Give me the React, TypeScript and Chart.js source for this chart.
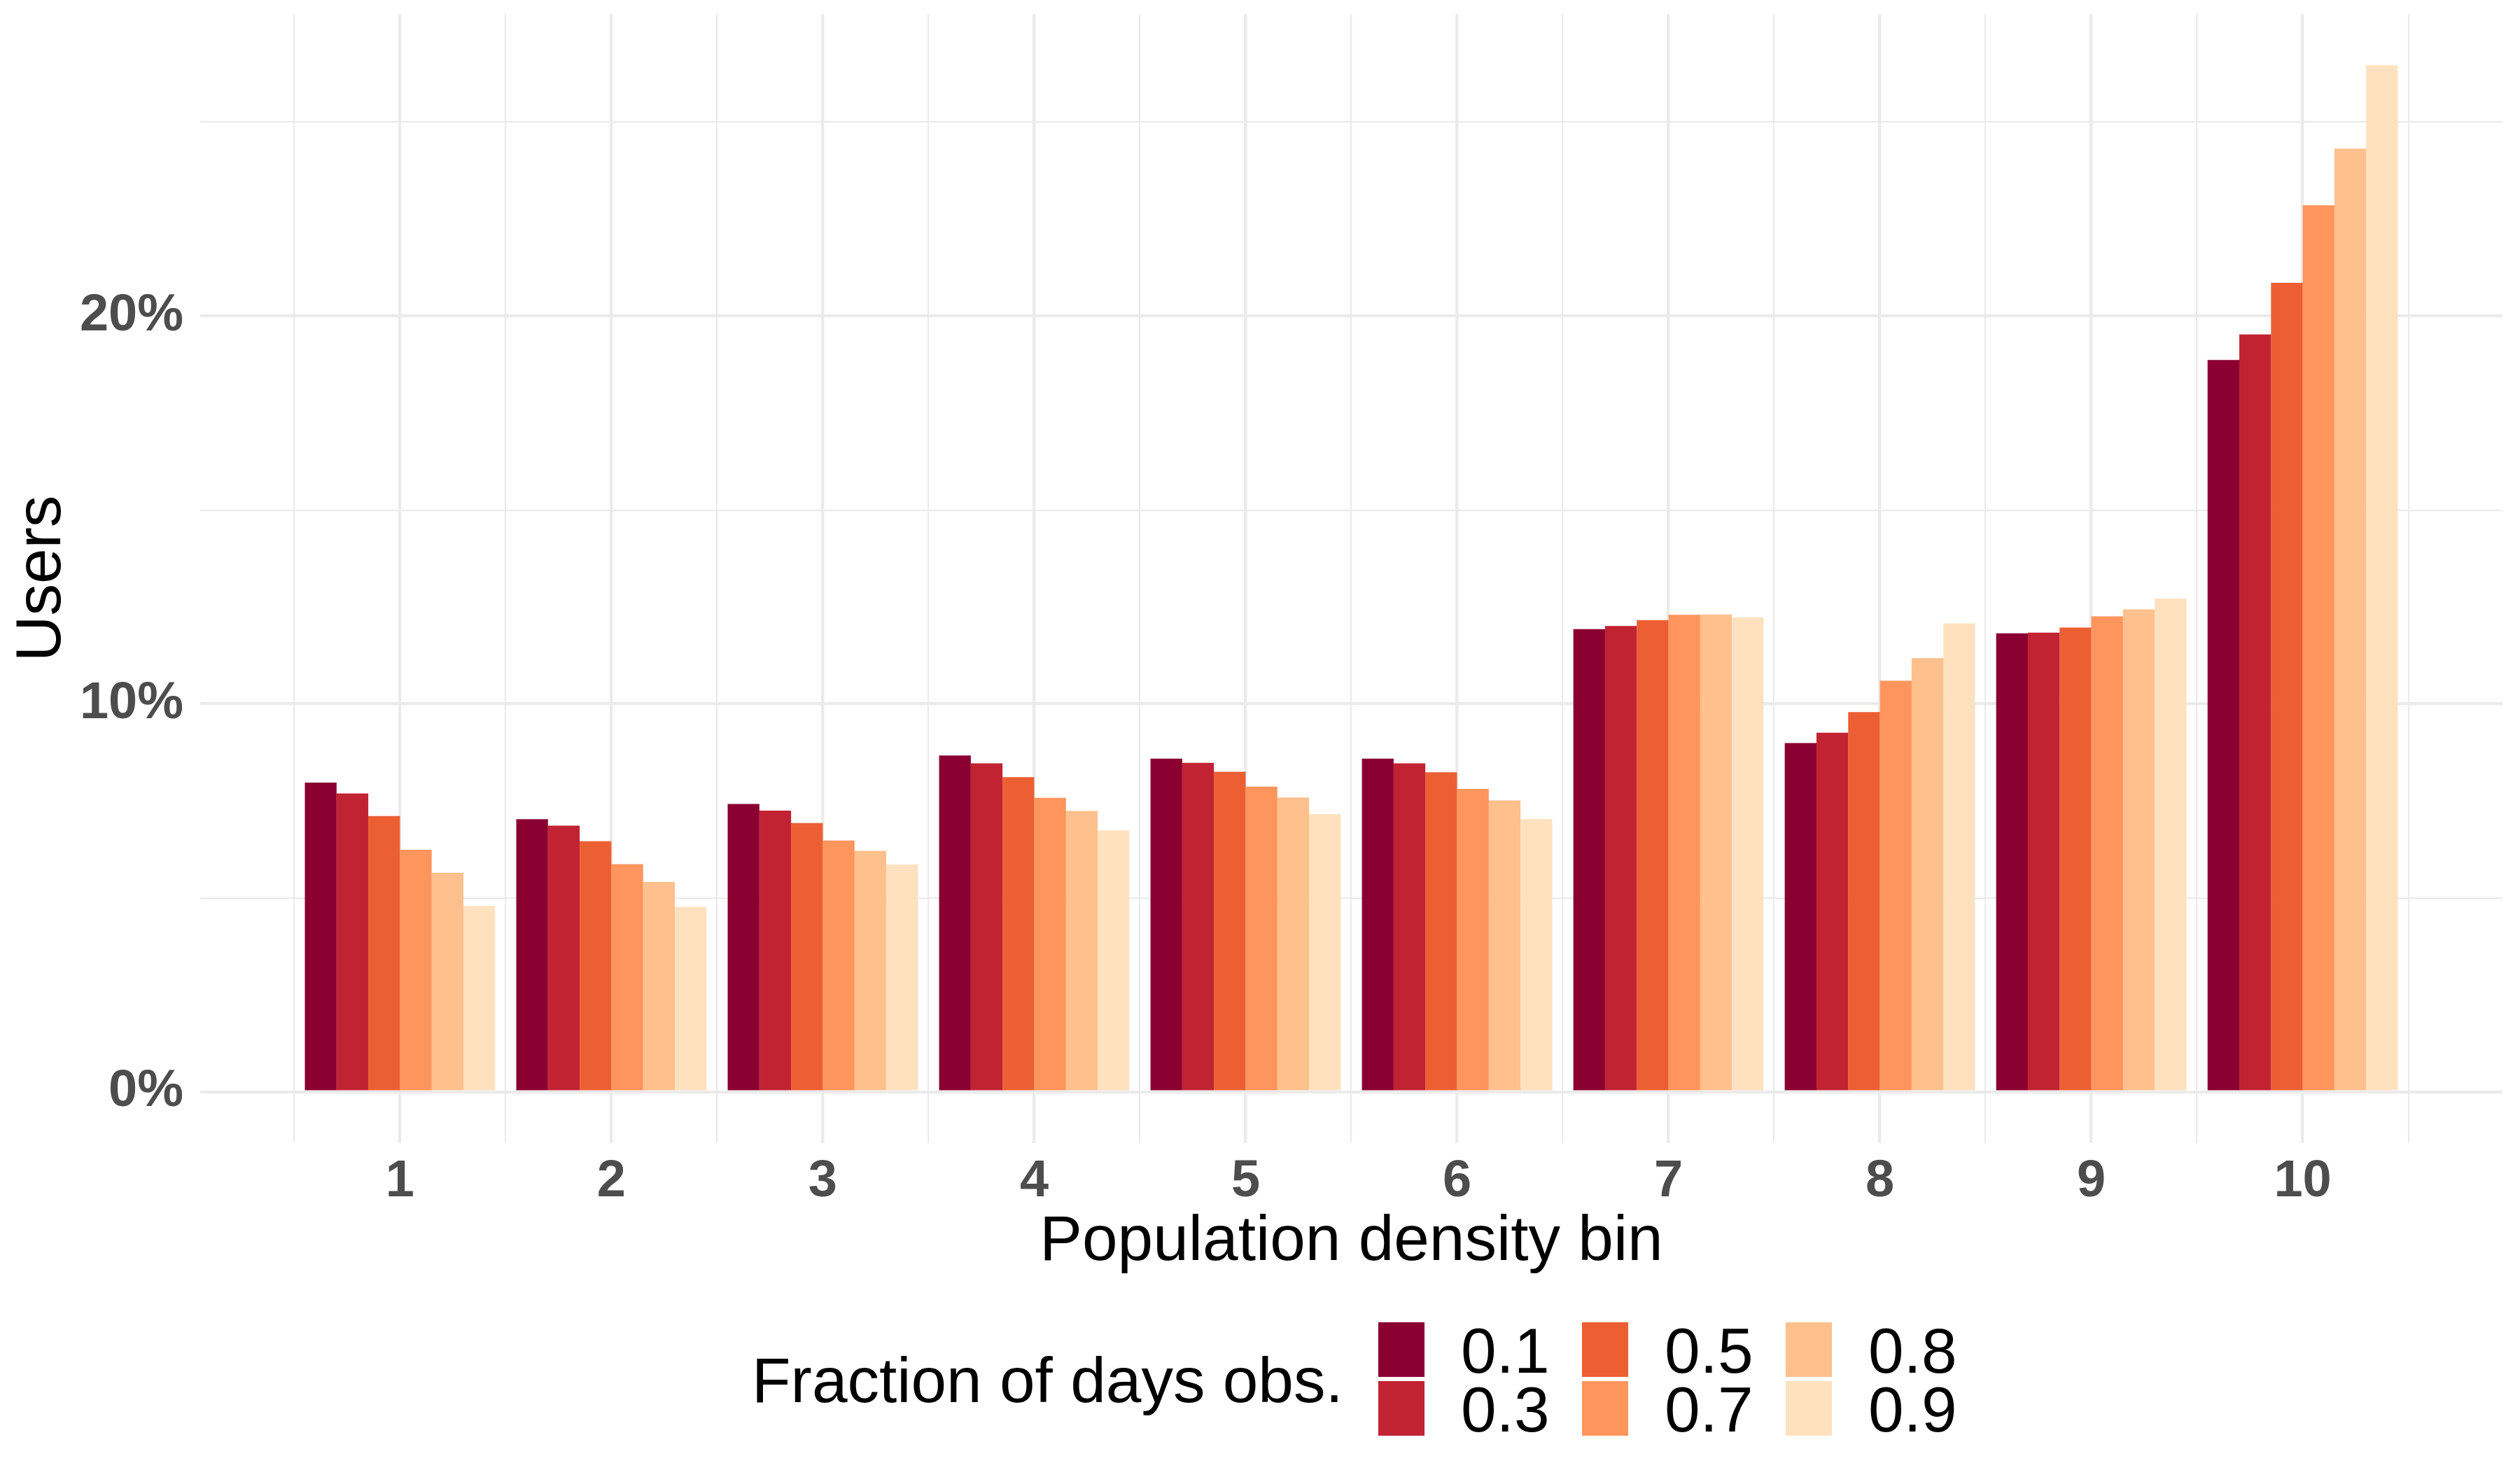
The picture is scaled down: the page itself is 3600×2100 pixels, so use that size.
import React, { useEffect, useRef } from 'react';
import { Chart, registerables } from 'chart.js';

Chart.register(...registerables);

// ---- data ----
const bins = [1, 2, 3, 4, 5, 6, 7, 8, 9, 10];
const fractions = ['0.1', '0.3', '0.5', '0.7', '0.8', '0.9'];
const fractionColors = ['#8A0030', '#C22333', '#EC5F33', '#FE955C', '#FEC08D', '#FFE1BF'];
const users01 = [7.97, 7.03, 7.42, 8.67, 8.59, 8.59, 11.93, 8.99, 11.82, 18.87];
const users03 = [7.69, 6.86, 7.25, 8.47, 8.48, 8.47, 12.01, 9.26, 11.84, 19.53];
const users05 = [7.11, 6.46, 6.93, 8.11, 8.25, 8.24, 12.16, 9.79, 11.97, 20.86];
const users07 = [6.24, 5.87, 6.48, 7.58, 7.87, 7.81, 12.30, 10.60, 12.26, 22.86];
const users08 = [5.65, 5.41, 6.21, 7.24, 7.59, 7.51, 12.31, 11.18, 12.44, 24.32];
const users09 = [4.79, 4.77, 5.86, 6.74, 7.16, 7.03, 12.23, 12.08, 12.72, 26.47];
const seriesValues = [users01, users03, users05, users07, users08, users09];
const yTickValues = [0, 5, 10, 15, 20, 25];
const yTickLabels = ['0%', '', '10%', '', '20%', ''];
const xMinorTicks = [0.5, 1.5, 2.5, 3.5, 4.5, 5.5, 6.5, 7.5, 8.5, 9.5, 10.5];

const FONT = '"Liberation Sans", Arial, Helvetica, sans-serif';
const GRID = '#EBEBEB';
const TICK = '#4D4D4D';

const legendPlugin = {
  id: 'customLegend',
  afterDraw(chart: any) {
    const ctx = chart.ctx;
    ctx.save();
    ctx.fillStyle = '#000000';
    ctx.font = `91px ${FONT}`;
    ctx.textBaseline = 'alphabetic';
    ctx.textAlign = 'left';
    ctx.fillText('Fraction of days obs.', 1074, 2003);
    chart.data.datasets.forEach((ds: any, i: number) => {
      const col = Math.floor(i / 2);
      const row = i % 2;
      const kx = 1969 + col * 291;
      const ky = 1889 + row * 84;
      ctx.fillStyle = ds.backgroundColor;
      ctx.fillRect(kx, ky, 66, 78);
      ctx.fillStyle = '#000000';
      ctx.fillText(ds.label, kx + 118, ky + 39 + 33);
    });
    ctx.restore();
  },
};

export default function App() {
  const ref = useRef<HTMLCanvasElement | null>(null);
  useEffect(() => {
    document.body.style.margin = '0';
    const canvas = ref.current!;
    const chart = new Chart(canvas, {
      type: 'bar',
      data: {
        datasets: seriesValues.map((vals, i) => ({
          label: fractions[i],
          data: bins.map((b, j) => ({ x: b, y: vals[j] })),
          backgroundColor: fractionColors[i],
          borderWidth: 0,
          categoryPercentage: 0.9,
          barPercentage: 1.0,
          xAxisID: 'x',
          yAxisID: 'y',
        })),
      },
      options: {
        responsive: false,
        animation: false,
        devicePixelRatio: 1,
        layout: { padding: { left: 6, top: 20, right: 25, bottom: 270 } },
        plugins: { legend: { display: false }, tooltip: { enabled: false } },
        scales: {
          x: {
            type: 'linear',
            position: 'bottom',
            offset: false,
            min: 0.055,
            max: 10.945,
            afterBuildTicks: (s: any) => {
              s.ticks = bins.map((v) => ({ value: v }));
            },
            afterFit: (s: any) => {
              s.height = 197;
              s.paddingLeft = 0;
              s.paddingRight = 0;
            },
            grid: { color: GRID, lineWidth: 4.3, drawTicks: false, offset: false },
            border: { display: false },
            ticks: {
              autoSkip: false,
              maxRotation: 0,
              minRotation: 0,
              padding: 11,
              color: TICK,
              font: { family: FONT, size: 74, weight: 'bold' },
              callback: (v: any) => String(v),
            },
            title: {
              display: true,
              text: 'Population density bin',
              color: '#000000',
              font: { family: FONT, size: 91 },
              padding: 0,
            },
          },
          xMinor: {
            type: 'linear',
            position: 'top',
            offset: false,
            min: 0.055,
            max: 10.945,
            afterBuildTicks: (s: any) => {
              s.ticks = xMinorTicks.map((v) => ({ value: v }));
            },
            afterFit: (s: any) => {
              s.height = 0;
              s.paddingLeft = 0;
              s.paddingRight = 0;
            },
            grid: { color: GRID, lineWidth: 2.2, drawTicks: false, offset: false },
            border: { display: false },
            ticks: { display: false },
          },
          y: {
            type: 'linear',
            position: 'left',
            min: -1.3235,
            max: 27.79,
            afterBuildTicks: (s: any) => {
              s.ticks = yTickValues.map((v) => ({ value: v }));
            },
            afterFit: (s: any) => {
              s.width = 280;
              s.paddingTop = 0;
              s.paddingBottom = 0;
            },
            grid: {
              color: GRID,
              lineWidth: (c: any) => (c.tick && c.tick.value % 10 === 0 ? 4.3 : 2.2),
              drawTicks: false,
            },
            border: { display: false },
            ticks: {
              autoSkip: false,
              padding: 24,
              color: TICK,
              font: { family: FONT, size: 74, weight: 'bold' },
              callback: (_v: any, i: number) => yTickLabels[i],
            },
            title: {
              display: true,
              text: 'Users',
              color: '#000000',
              font: { family: FONT, size: 91 },
              padding: 0,
            },
          },
        },
      } as any,
      plugins: [legendPlugin],
    });
    return () => chart.destroy();
  }, []);
  return <canvas ref={ref} width={3600} height={2100} style={{ display: 'block' }} />;
}
